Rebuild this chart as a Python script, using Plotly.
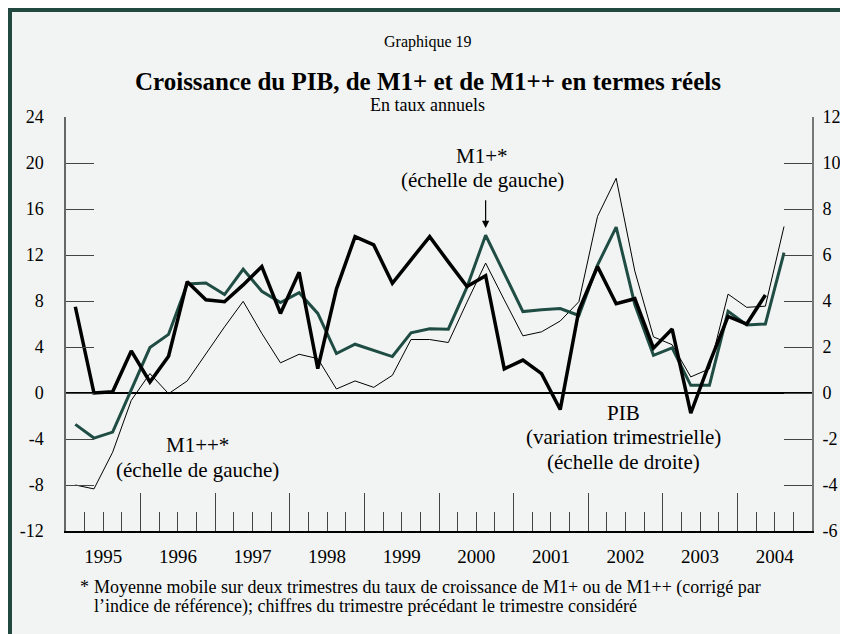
import plotly.graph_objects as go

# ---------------- data (quarterly, starting 1995 Q1) ----------------
years = list(range(1995, 2005))
year_labels = [str(y) for y in years]

# PIB, quarterly change at annual rate (right scale)
pib = [3.75, 0.0, 0.05, 1.83, 0.48, 1.6, 4.84, 4.05, 3.97, 4.7,
       5.5, 3.46, 5.25, 1.06, 4.52, 6.8, 6.44, 4.77, 5.79, 6.8,
       5.7, 4.63, 5.1, 1.05, 1.43, 0.84, -0.72, 3.6, 5.5, 3.88,
       4.1, 1.95, 2.78, -0.88, 1.3, 3.33, 3.0, 4.26]

# M1+* (left scale)
m1p = [-2.73, -3.92, -3.4, 0.2, 3.95, 5.1, 9.48, 9.56, 8.56, 10.76,
       8.85, 7.87, 8.72, 6.92, 3.43, 4.24, 3.69, 3.17, 5.23, 5.58,
       5.55, 9.2, 13.72, 10.4, 7.08, 7.24, 7.35, 6.74, 11.13, 14.42,
       7.7, 3.28, 3.92, 0.67, 0.67, 7.1, 5.92, 6.0, 12.2]

# M1++* (left scale)
m1pp = [-8.0, -8.34, -5.15, -0.64, 1.69, -0.06, 1.05, 3.4, 5.75, 7.97,
        5.18, 2.62, 3.37, 2.99, 0.35, 1.05, 0.49, 1.54, 4.65, 4.65,
        4.39, 7.9, 11.3, 8.1, 4.97, 5.32, 6.26, 7.94, 15.36, 18.67,
        10.6, 4.88, 4.2, 1.4, 2.1, 8.6, 7.45, 7.55, 14.48]

left_ticks = [-12, -8, -4, 0, 4, 8, 12, 16, 20, 24]
right_ticks = [-6, -4, -2, 0, 2, 4, 6, 8, 10, 12]


def quarter_pos(n):
    # centre of each quarter, in fractional years
    return [1995 + (i + 0.5) / 4 for i in range(n)]


# ---------------- layout constants ----------------
OFF = 8                      # page body margin
W, H = 832, 626              # visible page area
ML, MT = 58, 109
PW, PH = 746, 414
MR, MB = W - ML - PW, H - MT - PH
FONT = "Liberation Serif"
GREEN = "#1f4d44"
BG = "#f2f4f3"
BORDER = "#22493f"


def px(x):
    # x in window pixels -> paper
    return (x - OFF - ML) / PW


def py(y):
    # y in window pixels -> paper
    return (H - MB - (y - OFF)) / PH


fig = go.Figure()

fig.add_trace(go.Scatter(x=quarter_pos(len(m1pp)), y=m1pp, mode="lines",
                         line=dict(color="black", width=1),
                         xaxis="x", yaxis="y", name="M1++*"))
fig.add_trace(go.Scatter(x=quarter_pos(len(m1p)), y=m1p, mode="lines",
                         line=dict(color=GREEN, width=3),
                         xaxis="x", yaxis="y", name="M1+*"))
fig.add_trace(go.Scatter(x=quarter_pos(len(pib)), y=pib, mode="lines",
                         line=dict(color="black", width=3.5),
                         xaxis="x", yaxis="y2", name="PIB"))
# invisible trace to carry the year-label axis
fig.add_trace(go.Scatter(x=[1995, 2005], y=[0, 0], mode="lines",
                         line=dict(width=0), xaxis="x2", yaxis="y",
                         hoverinfo="skip", showlegend=False))

left_text = [str(v) for v in left_ticks]
right_text = [str(v) for v in right_ticks]

fig.update_layout(
    width=W, height=H,
    margin=dict(l=ML, r=MR, t=MT, b=MB, autoexpand=False),
    paper_bgcolor=BG, plot_bgcolor=BG,
    showlegend=False,
    font=dict(family=FONT, color="black", size=18),
    xaxis=dict(range=[1995, 2005], tickmode="linear", tick0=1995, dtick=1,
               ticks="inside", ticklen=38, tickwidth=1, tickcolor="#444",
               showticklabels=False, showline=True, linecolor="black",
               linewidth=1.5, showgrid=False, zeroline=False,
               minor=dict(tick0=1995, dtick=0.25, ticks="inside", ticklen=19,
                          tickwidth=1, tickcolor="#444", showgrid=False)),
    xaxis2=dict(range=[1995, 2005], overlaying="x", anchor="y", side="bottom",
                tickmode="array", tickvals=[y + 0.5 for y in years],
                ticktext=year_labels, ticks="", showline=False,
                showgrid=False, zeroline=False, ticklabelstandoff=12,
                tickfont=dict(size=19, family=FONT)),
    yaxis=dict(range=[-12, 24], tickmode="array", tickvals=left_ticks,
               ticktext=left_text,
               ticks="inside", ticklen=28, tickwidth=1, tickcolor="#444",
               showline=True, linecolor="#666", linewidth=1.5,
               showgrid=False, zeroline=False, ticklabelstandoff=17,
               tickfont=dict(size=18, family=FONT)),
    yaxis2=dict(range=[-6, 12], overlaying="y", side="right", anchor="x",
                tickmode="array", tickvals=right_ticks, ticktext=right_text,
                ticks="inside", ticklen=28, tickwidth=1, tickcolor="#444",
                showline=True, linecolor="#777", linewidth=2,
                showgrid=False, zeroline=False, ticklabelstandoff=5,
                tickfont=dict(size=18, family=FONT)),
)

# zero line
fig.add_shape(type="line", xref="x", yref="y", x0=1995, x1=2005, y0=0, y1=0,
              line=dict(color="black", width=2), layer="below")

# frame border (left and top visible)
fig.add_shape(type="rect", xref="paper", yref="paper",
              x0=px(10), x1=px(900), y0=py(660), y1=py(10),
              line=dict(color=BORDER, width=4), fillcolor="rgba(0,0,0,0)",
              layer="below")

ann = []


def text(x, y, s, size, bold=False, xanchor="center", xref="paper", yref="paper"):
    if bold:
        s = "<b>" + s + "</b>"
    ann.append(dict(x=x, y=y, xref=xref, yref=yref, text=s, showarrow=False,
                    xanchor=xanchor, yanchor="middle",
                    font=dict(family=FONT, size=size, color="black")))


cx = px(427.5)
text(cx, py(42), "Graphique 19", 16)
text(cx, py(81), "Croissance du PIB, de M1+ et de M1++ en termes réels", 25, bold=True)
text(cx, py(105), "En taux annuels", 18)

# series labels (data coordinates)
text(2000.58, 20.6, "M1+*", 21, xref="x", yref="y")
text(2000.58, 18.5, "(échelle de gauche)", 21, xref="x", yref="y")
text(1996.76, -4.48, "M1++*", 21, xref="x", yref="y")
text(1996.76, -6.66, "(échelle de gauche)", 21, xref="x", yref="y")
text(2002.47, -1.75, "PIB", 21, xref="x", yref="y")
text(2002.47, -3.84, "(variation trimestrielle)", 21, xref="x", yref="y")
text(2002.47, -6.02, "(échelle de droite)", 21, xref="x", yref="y")

# arrow to M1+ peak
ann.append(dict(x=2000.625, y=14.35, ax=2000.625, ay=16.9, xref="x", yref="y",
                axref="x", ayref="y", text="", showarrow=True, arrowhead=2,
                arrowsize=1.2, arrowwidth=1.2, arrowcolor="black"))

# footnote
text(px(78), py(587), "*", 18, xanchor="left")
text(px(92), py(587), "Moyenne mobile sur deux trimestres du taux de croissance de M1+ ou de M1++ (corrigé par", 18, xanchor="left")
text(px(92), py(606), "l’indice de référence); chiffres du trimestre précédant le trimestre considéré", 18, xanchor="left")

fig.update_layout(annotations=ann)

fig.write_html("out.html")
